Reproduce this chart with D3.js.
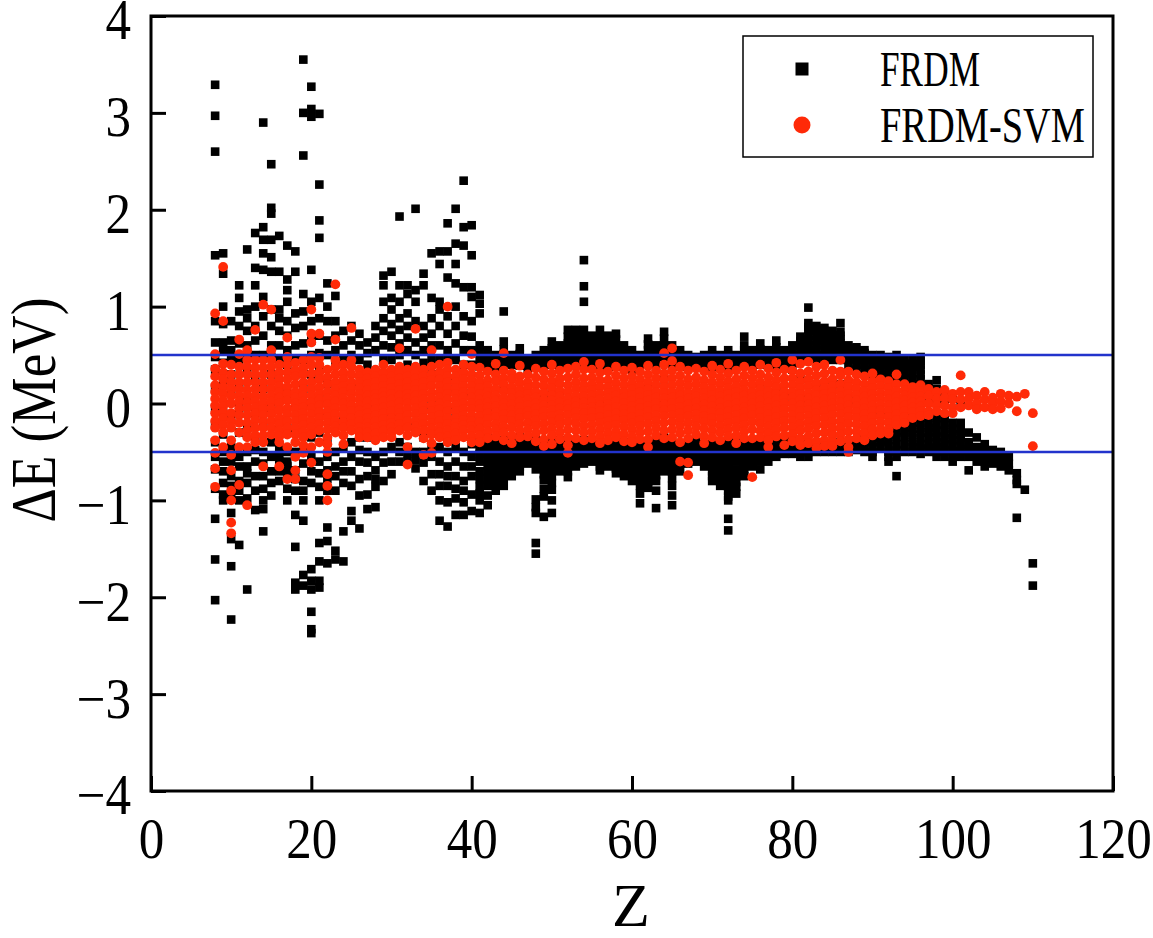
<!DOCTYPE html>
<html><head><meta charset="utf-8">
<script src="https://cdn.jsdelivr.net/npm/d3@7"></script>
<style>body{margin:0;background:#fff}svg{display:block}</style>
</head><body>
<script>
// Each row: [Z, ΔE values ...] (MeV)
const frdmLight = [
[8,3.29,2.97,2.60,1.53,0.85,0.63,0.48,0.35,0.15,-0.05,-0.22,-0.40,-0.55,-0.68,-0.88,-1.19,-1.61,-2.03],
[9,1.55,1.34,1.0,0.82,0.63,0.55,0.42,0.2,-0.1,-0.32,-0.5,-0.6,-0.7,-0.82,-0.94,-1.0],
[10,0.85,0.65,0.55,0.45,0.3,0.1,-0.15,-0.45,-0.6,-0.75,-0.85,-0.95,-1.13,-1.4,-1.68,-2.23],
[11,1.22,1.09,0.95,0.8,0.62,0.45,0.2,-0.05,-0.3,-0.55,-0.65,-0.8,-0.9,-1.0,-1.46],
[12,1.59,0.97,0.88,0.75,0.6,0.48,0.35,0.05,-0.25,-0.5,-0.65,-0.72,-0.82,-0.98,-1.92],
[13,1.76,1.40,1.22,1.0,0.80,0.65,0.5,0.25,-0.1,-0.35,-0.48,-0.6,-0.75,-0.9,-1.1],
[14,2.90,1.82,1.69,1.55,1.38,1.1,0.9,0.7,0.5,0.15,-0.2,-0.5,-0.62,-0.75,-0.88,-1.0,-1.09,-1.32],
[15,2.47,2.02,1.96,1.69,1.51,1.36,0.97,0.8,0.6,0.48,0.3,-0.05,-0.4,-0.55,-0.7,-0.82,-0.95],
[16,1.73,1.36,0.97,0.88,0.75,0.6,0.45,0.1,-0.2,-0.45,-0.52,-0.6,-0.7,-0.8],
[17,1.63,1.28,1.17,1.05,0.85,0.7,0.55,0.4,0.1,-0.25,-0.5,-0.6,-0.65,-0.73,-0.88,-1.0],
[18,1.57,1.36,0.93,0.78,0.6,0.45,0.3,0.0,-0.3,-0.5,-0.69,-0.78,-0.9,-1.15,-1.48,-1.85,-1.92],
[19,3.55,3.0,2.56,1.13,0.95,0.8,0.62,0.45,0.15,-0.2,-0.5,-0.62,-0.8,-0.9,-1.0,-1.21,-1.77,-1.88],
[20,3.27,3.04,2.96,1.38,1.05,0.85,0.65,0.5,0.3,0.0,-0.35,-0.55,-0.7,-0.82,-1.71,-1.83,-1.92,-2.15,-2.33,-2.37],
[21,2.99,2.26,1.89,1.71,1.09,0.88,0.7,0.52,0.35,0.05,-0.3,-0.6,-0.72,-0.86,-1.0,-1.44,-1.63,-1.83,-1.90],
[22,1.24,1.0,0.85,0.65,0.5,0.2,-0.1,-0.4,-0.55,-0.69,-0.78,-0.9,-1.28,-1.42,-1.65],
[23,1.11,0.85,0.7,0.55,0.4,0.1,-0.2,-0.5,-0.65,-0.75,-0.9,-1.52,-1.61],
[24,0.75,0.6,0.45,0.15,-0.15,-0.45,-0.6,-0.7,-0.82,-1.32,-1.63],
[25,0.8,0.65,0.5,0.2,-0.1,-0.4,-0.55,-0.7,-0.85,-1.11,-1.21],
[26,0.72,0.6,0.45,0.2,-0.05,-0.35,-0.48,-0.6,-0.78,-0.95,-1.29],
[27,0.63,0.52,0.4,0.15,-0.1,-0.35,-0.5,-0.61,-0.75,-0.94,-1.09],
[28,0.80,0.68,0.55,0.3,0.0,-0.3,-0.55,-0.69,-0.78,-0.86,-1.07],
[29,1.32,1.22,1.05,0.88,0.75,0.6,0.45,0.3,0.05,-0.25,-0.5,-0.61,-0.8],
[30,1.36,1.09,0.97,0.82,0.7,0.58,0.45,0.15,-0.15,-0.45,-0.6,-0.73],
[31,1.93,1.22,1.05,0.88,0.76,0.62,0.5,0.2,-0.1,-0.4,-0.5,-0.6],
[32,1.22,1.13,0.93,0.8,0.68,0.55,0.4,0.1,-0.2,-0.45,-0.52,-0.6],
[33,2.01,1.17,1.05,0.85,0.63,0.5,0.35,0.05,-0.25,-0.5,-0.58,-0.67],
[34,1.34,1.22,0.80,0.68,0.55,0.42,0.25,-0.05,-0.35,-0.5,-0.61,-0.8],
[35,1.55,1.09,0.88,0.72,0.6,0.45,0.3,0.0,-0.3,-0.45,-0.55,-0.73,-0.90],
[36,1.57,1.44,1.05,0.97,0.8,0.6,0.45,0.3,0.0,-0.3,-0.45,-0.6,-0.73,-0.85,-1.0,-1.21],
[37,1.86,1.57,1.30,0.9,0.72,0.55,0.45,0.25,-0.05,-0.35,-0.5,-0.65,-0.75,-0.85,-1.02,-1.27],
[38,2.01,1.65,1.44,1.24,1.0,0.8,0.62,0.45,0.15,-0.15,-0.45,-0.6,-0.75,-0.88,-0.98,-1.15],
[39,2.30,1.82,1.63,1.20,0.9,0.7,0.55,0.4,0.1,-0.2,-0.5,-0.65,-0.8,-0.9,-1.02,-1.15],
[40,1.84,1.53,1.20,1.1,0.85,0.69,0.55,0.4,0.1,-0.2,-0.42,-0.55,-0.65,-0.75,-0.94,-1.11]
];
const frdmMedium = [
[41,1.12,1.03,0.93,0.6,0.52,0.45,0.38,0.2,0.0,-0.2,-0.38,-0.45,-0.52,-0.6,-0.7,-0.78,-0.86,-0.93,-1.0,-1.13],
[42,0.55,0.47,0.42,0.36,0.1,-0.1,-0.36,-0.42,-0.5,-0.58,-0.64,-0.7,-0.78,-0.85,-0.95,-1.05],
[43,0.5,0.44,0.38,0.0,-0.38,-0.45,-0.5,-0.56,-0.62,-0.68,-0.75,-0.82,-0.9],
[44,0.95,0.64,0.56,0.5,0.43,0.38,0.15,-0.1,-0.38,-0.45,-0.52,-0.58,-0.64,-0.69,-0.77,-0.85],
[45,0.5,0.45,0.4,0.0,-0.38,-0.45,-0.52,-0.58,-0.65,-0.7,-0.75],
[46,0.57,0.51,0.45,0.39,0.1,-0.35,-0.42,-0.48,-0.54,-0.6,-0.65,-0.7],
[47,0.45,0.4,0.35,-0.05,-0.36,-0.42,-0.47,-0.52,-0.57,-0.62],
[48,0.5,0.44,0.38,0.0,-0.38,-0.45,-0.52,-0.6,-0.68,-0.99,-1.07,-1.13,-1.44,-1.55],
[49,0.55,0.48,0.42,0.36,0.05,-0.4,-0.47,-0.55,-0.61,-0.67,-0.73,-0.79,-0.88,-0.96,-1.17],
[50,0.64,0.57,0.5,0.45,0.4,0.15,-0.4,-0.48,-0.54,-0.6,-0.67,-0.75,-0.82,-0.89,-1.0,-1.13],
[51,0.6,0.54,0.48,0.42,0.36,0.1,-0.38,-0.44,-0.5,-0.55,-0.6,-0.65,-0.7],
[52,0.76,0.69,0.62,0.56,0.5,0.44,0.38,0.0,-0.42,-0.48,-0.55,-0.6,-0.65,-0.7,-0.76],
[53,0.76,0.7,0.64,0.58,0.52,0.46,0.4,0.05,-0.4,-0.46,-0.52,-0.58,-0.65],
[54,1.48,1.21,1.05,0.76,0.7,0.65,0.6,0.55,0.48,0.42,0.05,-0.38,-0.42,-0.47,-0.52,-0.57,-0.62],
[55,0.7,0.65,0.6,0.54,0.48,0.43,0.38,-0.05,-0.38,-0.44,-0.5,-0.55,-0.6],
[56,0.76,0.69,0.62,0.56,0.5,0.44,0.38,0.0,-0.42,-0.48,-0.54,-0.6,-0.65,-0.69],
[57,0.7,0.64,0.58,0.52,0.45,0.4,-0.05,-0.4,-0.46,-0.55,-0.6,-0.65],
[58,0.72,0.66,0.6,0.55,0.5,0.44,0.38,-0.1,-0.38,-0.44,-0.5,-0.56,-0.62,-0.67,-0.72],
[59,0.6,0.55,0.5,0.45,0.4,0.1,-0.4,-0.46,-0.52,-0.58,-0.65,-0.7,-0.75],
[60,0.55,0.5,0.45,0.4,0.35,0.05,-0.42,-0.48,-0.55,-0.62,-0.68,-0.74,-0.8],
[61,0.5,0.45,0.4,0.0,-0.4,-0.45,-0.52,-0.58,-0.64,-0.7,-0.78,-0.85,-0.93,-1.03],
[62,0.67,0.61,0.55,0.48,0.42,0.15,-0.4,-0.46,-0.52,-0.58,-0.65,-0.7,-0.75,-0.81,-0.87],
[63,0.6,0.55,0.5,0.44,0.38,0.1,-0.4,-0.48,-0.55,-0.62,-0.68,-0.74,-0.8,-0.9,-1.08],
[64,0.74,0.67,0.6,0.54,0.48,0.25,0.0,-0.35,-0.42,-0.5,-0.56,-0.62,-0.66,-0.7],
[65,0.6,0.55,0.5,0.44,0.38,0.1,-0.4,-0.47,-0.55,-0.62,-0.7,-0.77,-0.85,-0.95,-1.05],
[66,0.55,0.5,0.45,0.38,0.05,-0.42,-0.48,-0.55,-0.62,-0.7],
[67,0.5,0.45,0.4,0.0,-0.4,-0.45,-0.5,-0.56,-0.62],
[68,0.48,0.43,0.38,0.0,-0.38,-0.44,-0.5,-0.55,-0.6],
[69,0.5,0.45,0.4,0.0,-0.42,-0.48,-0.55,-0.6,-0.65],
[70,0.55,0.5,0.45,0.38,0.05,-0.42,-0.48,-0.55,-0.62,-0.7,-0.75,-0.8],
[71,0.5,0.45,0.4,0.0,-0.4,-0.45,-0.52,-0.6,-0.67,-0.75,-0.8,-0.85],
[72,0.55,0.5,0.45,0.38,0.05,-0.38,-0.42,-0.5,-0.55,-0.62,-0.68,-0.74,-0.8,-0.86,-0.9,-0.96,-1.0,-1.19,-1.31],
[73,0.5,0.45,0.4,0.0,-0.4,-0.45,-0.52,-0.6,-0.68,-0.75,-0.81,-0.86,-0.93],
[74,0.69,0.6,0.55,0.5,0.45,0.4,-0.05,-0.38,-0.44,-0.5,-0.56,-0.62,-0.68,-0.75],
[75,0.55,0.5,0.45,0.38,0.05,-0.4,-0.46,-0.52,-0.58,-0.65],
[76,0.62,0.56,0.5,0.45,0.4,0.15,-0.38,-0.44,-0.5,-0.55,-0.6,-0.68],
[77,0.55,0.5,0.45,0.38,0.05,-0.4,-0.45,-0.5,-0.55,-0.6],
[78,0.65,0.58,0.52,0.46,0.4,0.15,-0.38,-0.43,-0.48,-0.52,-0.55],
[79,0.55,0.5,0.45,0.38,0.05,-0.38,-0.42,-0.45,-0.48,-0.52],
[80,0.6,0.54,0.48,0.42,0.35,0.1,-0.35,-0.4,-0.45,-0.5,-0.52]
];
const frdmHeavy = [
[81,0.69,0.64,0.6,0.55,0.5,0.44,0.25,0.0,-0.4,-0.45,-0.5,-0.55],
[82,0.99,0.83,0.79,0.76,0.7,0.66,0.62,0.58,0.55,0.5,0.46,0.05,-0.42,-0.47,-0.5,-0.55],
[83,0.8,0.77,0.75,0.7,0.65,0.6,0.55,0.5,0.46,0.2,-0.42,-0.46,-0.5],
[84,0.78,0.75,0.72,0.68,0.64,0.6,0.55,0.5,0.45,0.1,-0.42,-0.45,-0.5],
[85,0.75,0.71,0.68,0.64,0.6,0.56,0.52,0.48,0.45,0.2,-0.42,-0.46,-0.5],
[86,0.83,0.74,0.7,0.66,0.62,0.6,0.56,0.52,0.48,0.45,0.2,-0.4,-0.45,-0.5],
[87,0.6,0.57,0.55,0.52,0.5,0.46,0.4,0.05,-0.4,-0.45,-0.5],
[88,0.58,0.55,0.52,0.48,0.45,0.4,0.35,0.0,-0.38,-0.42,-0.48],
[89,0.55,0.52,0.48,0.44,0.4,0.35,0.0,-0.35,-0.4,-0.45,-0.5],
[90,0.5,0.47,0.45,0.4,0.35,0.3,-0.05,-0.35,-0.4,-0.45,-0.5,-0.55],
[91,0.5,0.46,0.42,0.38,0.34,0.3,-0.1,-0.32,-0.36,-0.4,-0.45],
[92,0.48,0.44,0.4,0.35,0.3,0.25,-0.1,-0.32,-0.38,-0.44,-0.5,-0.55,-0.6],
[93,0.5,0.46,0.42,0.37,0.32,0.25,-0.15,-0.28,-0.34,-0.42,-0.48,-0.55,-0.75],
[94,0.45,0.41,0.38,0.34,0.3,0.25,-0.1,-0.25,-0.3,-0.35,-0.42,-0.5],
[95,0.45,0.41,0.38,0.32,0.25,0.2,-0.2,-0.26,-0.32,-0.4,-0.45,-0.5],
[96,0.48,0.44,0.4,0.35,0.3,0.25,-0.15,-0.22,-0.3,-0.36,-0.42,-0.47,-0.52],
[97,0.2,0.12,0.05,-0.2,-0.25,-0.3,-0.35,-0.42,-0.46,-0.5],
[98,0.24,0.15,0.05,-0.15,-0.22,-0.28,-0.34,-0.4,-0.45,-0.5,-0.55],
[99,0.1,0.02,-0.15,-0.22,-0.3,-0.36,-0.42,-0.48,-0.55],
[100,0.05,-0.2,-0.26,-0.32,-0.38,-0.44,-0.5,-0.55,-0.6],
[101,0.0,-0.2,-0.28,-0.35,-0.42,-0.5,-0.55],
[102,-0.3,-0.4,-0.48,-0.55,-0.69],
[103,-0.35,-0.45,-0.52,-0.6],
[104,-0.42,-0.5,-0.58,-0.65],
[105,-0.48,-0.55,-0.62],
[106,-0.5,-0.58,-0.65],
[107,-0.55,-0.62,-0.69],
[108,-0.72,-0.79,-0.83,-1.18],
[109,-0.89],
[110,-1.65,-1.88]
];
const svmLight = [
[8,0.93,0.51,0.36,0.28,0.19,0.12,0.05,-0.02,-0.1,-0.18,-0.25,-0.38,-0.51,-0.67,-0.86],
[9,1.41,0.85,0.41,0.32,0.25,0.17,0.1,0.03,-0.03,-0.09,-0.15,-0.22,-0.3,-0.45],
[10,0.4,0.3,0.22,0.15,0.08,0.0,-0.1,-0.18,-0.25,-0.38,-0.53,-0.69,-0.9,-1.0,-1.23,-1.34],
[11,0.66,0.51,0.38,0.3,0.22,0.15,0.08,0.02,-0.05,-0.12,-0.2,-0.3,-0.45,-0.84],
[12,0.55,0.45,0.38,0.3,0.22,0.14,0.08,0.01,-0.05,-0.12,-0.2,-0.28,-0.35,-0.45,-1.05],
[13,0.76,0.45,0.37,0.3,0.22,0.15,0.08,0.02,-0.04,-0.1,-0.17,-0.25,-0.33,-0.4],
[14,1.02,0.45,0.37,0.3,0.22,0.15,0.07,0.0,-0.06,-0.12,-0.19,-0.25,-0.33,-0.4,-0.65],
[15,0.97,0.55,0.45,0.38,0.3,0.22,0.15,0.08,0.02,-0.05,-0.11,-0.18,-0.25,-0.32],
[16,0.4,0.32,0.25,0.18,0.12,0.06,0.0,-0.07,-0.15,-0.21,-0.28,-0.34,-0.4,-0.65],
[17,0.68,0.48,0.4,0.32,0.25,0.17,0.1,0.03,-0.05,-0.11,-0.18,-0.25,-0.32,-0.45,-0.78],
[18,0.42,0.34,0.28,0.2,0.12,0.06,0.0,-0.06,-0.12,-0.18,-0.25,-0.32,-0.4,-0.55,-0.69,-0.78],
[19,0.45,0.37,0.3,0.22,0.15,0.08,0.02,-0.04,-0.1,-0.16,-0.22,-0.29,-0.35,-0.43,-0.51],
[20,0.97,0.72,0.63,0.48,0.4,0.31,0.22,0.15,0.08,0.01,-0.05,-0.11,-0.18,-0.25,-0.32,-0.45,-0.61],
[21,0.72,0.47,0.4,0.32,0.25,0.17,0.1,0.04,-0.02,-0.09,-0.15,-0.21,-0.28,-0.4],
[22,0.35,0.27,0.2,0.12,0.05,-0.01,-0.08,-0.14,-0.2,-0.27,-0.35,-0.42,-0.5,-0.73,-0.85,-1.0],
[23,1.23,0.66,0.45,0.38,0.3,0.22,0.15,0.08,0.02,-0.05,-0.11,-0.18,-0.24,-0.3],
[24,0.4,0.32,0.25,0.18,0.12,0.05,0.0,-0.06,-0.12,-0.19,-0.25,-0.33,-0.42],
[25,0.78,0.45,0.38,0.3,0.22,0.16,0.1,0.04,-0.02,-0.08,-0.15,-0.21,-0.28],
[26,0.35,0.28,0.22,0.16,0.1,0.04,-0.02,-0.07,-0.12,-0.18,-0.25,-0.3,-0.35],
[27,0.32,0.26,0.2,0.14,0.08,0.02,-0.05,-0.1,-0.15,-0.2,-0.25,-0.3,-0.35],
[28,0.35,0.28,0.22,0.16,0.1,0.05,0.0,-0.06,-0.12,-0.18,-0.25,-0.31,-0.38],
[29,0.4,0.32,0.25,0.18,0.12,0.07,0.02,-0.04,-0.1,-0.16,-0.22,-0.28,-0.35],
[30,0.35,0.28,0.22,0.16,0.1,0.04,-0.02,-0.08,-0.15,-0.2,-0.25,-0.3,-0.35],
[31,0.57,0.38,0.32,0.26,0.2,0.14,0.08,0.01,-0.05,-0.1,-0.15,-0.21,-0.28],
[32,0.35,0.28,0.22,0.16,0.1,0.05,0.0,-0.06,-0.12,-0.18,-0.25,-0.33,-0.45,-0.63],
[33,0.77,0.38,0.32,0.26,0.2,0.14,0.08,0.02,-0.05,-0.11,-0.18,-0.24,-0.3],
[34,0.35,0.28,0.22,0.16,0.1,0.04,-0.02,-0.08,-0.15,-0.21,-0.28,-0.36,-0.53],
[35,0.55,0.38,0.3,0.24,0.18,0.11,0.05,-0.02,-0.08,-0.14,-0.2,-0.26,-0.32,-0.41,-0.51],
[36,0.4,0.32,0.25,0.18,0.12,0.06,0.0,-0.06,-0.12,-0.18,-0.25,-0.3,-0.35],
[37,1.0,0.42,0.35,0.28,0.22,0.16,0.1,0.04,-0.02,-0.08,-0.15,-0.21,-0.28,-0.34,-0.4],
[38,0.35,0.28,0.22,0.16,0.1,0.04,-0.02,-0.08,-0.15,-0.2,-0.25,-0.31,-0.38],
[39,0.4,0.32,0.25,0.18,0.12,0.06,0.0,-0.06,-0.12,-0.17,-0.22,-0.28,-0.35],
[40,0.51,0.38,0.3,0.24,0.18,0.12,0.06,0.0,-0.06,-0.12,-0.18,-0.23,-0.28,-0.34,-0.4]
];
const svmMedium = [
[41,0.37,0.29,0.22,0.16,0.1,0.04,-0.01,-0.06,-0.13,-0.19,-0.26,-0.33,-0.4],
[42,0.33,0.24,0.18,0.12,0.07,0.01,-0.04,-0.1,-0.16,-0.22,-0.29,-0.36],
[43,0.41,0.3,0.23,0.15,0.08,0.03,-0.03,-0.09,-0.14,-0.21,-0.27,-0.34],
[44,0.52,0.34,0.26,0.2,0.13,0.06,0.0,-0.05,-0.11,-0.17,-0.24,-0.3,-0.38],
[45,0.31,0.25,0.17,0.11,0.05,-0.01,-0.07,-0.12,-0.18,-0.25,-0.33,-0.41],
[46,0.39,0.28,0.21,0.14,0.08,0.02,-0.04,-0.1,-0.15,-0.21,-0.28,-0.35],
[47,0.3,0.22,0.16,0.1,0.04,-0.02,-0.08,-0.13,-0.2,-0.27,-0.34],
[48,0.36,0.27,0.19,0.12,0.06,0.0,-0.05,-0.11,-0.17,-0.23,-0.31,-0.39],
[49,0.33,0.25,0.18,0.11,0.04,-0.02,-0.08,-0.14,-0.21,-0.28,-0.37,-0.44],
[50,0.4,0.31,0.23,0.16,0.09,0.03,-0.02,-0.07,-0.13,-0.19,-0.26,-0.33,-0.42],
[51,0.34,0.26,0.2,0.13,0.07,0.01,-0.05,-0.11,-0.16,-0.22,-0.3,-0.37],
[52,0.36,0.27,0.19,0.12,0.05,-0.01,-0.06,-0.12,-0.19,-0.27,-0.35,-0.43,-0.51],
[53,0.38,0.3,0.22,0.15,0.08,0.02,-0.03,-0.09,-0.15,-0.21,-0.28,-0.36],
[54,0.43,0.35,0.26,0.19,0.13,0.07,0.01,-0.05,-0.1,-0.16,-0.23,-0.3,-0.38],
[55,0.35,0.27,0.2,0.14,0.08,0.02,-0.04,-0.09,-0.15,-0.22,-0.29,-0.36],
[56,0.41,0.32,0.24,0.17,0.1,0.04,-0.02,-0.08,-0.14,-0.2,-0.27,-0.34,-0.41],
[57,0.33,0.24,0.17,0.11,0.05,-0.01,-0.06,-0.12,-0.18,-0.24,-0.31,-0.38],
[58,0.38,0.29,0.21,0.14,0.08,0.02,-0.04,-0.1,-0.16,-0.22,-0.29,-0.35],
[59,0.34,0.26,0.19,0.12,0.06,0.0,-0.06,-0.11,-0.17,-0.24,-0.32,-0.39],
[60,0.37,0.28,0.21,0.15,0.09,0.03,-0.03,-0.08,-0.14,-0.2,-0.27,-0.34,-0.4],
[61,0.33,0.25,0.18,0.12,0.06,0.0,-0.05,-0.11,-0.17,-0.23,-0.3,-0.37],
[62,0.39,0.3,0.22,0.15,0.09,0.03,-0.03,-0.08,-0.14,-0.21,-0.29,-0.37,-0.45],
[63,0.34,0.26,0.19,0.12,0.06,0.0,-0.06,-0.12,-0.18,-0.25,-0.33],
[64,0.52,0.4,0.31,0.24,0.17,0.11,0.05,-0.01,-0.07,-0.13,-0.2,-0.28,-0.36],
[65,0.57,0.44,0.34,0.26,0.19,0.12,0.06,0.0,-0.06,-0.12,-0.19,-0.27,-0.35],
[66,0.38,0.29,0.21,0.14,0.08,0.02,-0.04,-0.1,-0.16,-0.23,-0.31,-0.4,-0.6],
[67,0.34,0.25,0.18,0.11,0.05,-0.01,-0.07,-0.13,-0.2,-0.28,-0.36,-0.61,-0.74],
[68,0.36,0.27,0.2,0.13,0.07,0.01,-0.05,-0.11,-0.17,-0.24,-0.32],
[69,0.33,0.24,0.17,0.11,0.05,-0.01,-0.07,-0.13,-0.19,-0.26,-0.34,-0.41],
[70,0.39,0.3,0.22,0.15,0.09,0.03,-0.03,-0.09,-0.15,-0.21,-0.28,-0.35],
[71,0.35,0.27,0.2,0.13,0.07,0.01,-0.05,-0.1,-0.16,-0.23,-0.3,-0.38],
[72,0.41,0.31,0.23,0.16,0.1,0.04,-0.02,-0.08,-0.14,-0.2,-0.27,-0.34],
[73,0.34,0.25,0.18,0.12,0.06,0.0,-0.06,-0.12,-0.18,-0.25,-0.33,-0.41],
[74,0.38,0.29,0.21,0.14,0.08,0.02,-0.04,-0.09,-0.15,-0.22,-0.29,-0.36],
[75,0.34,0.26,0.19,0.12,0.06,0.0,-0.06,-0.12,-0.19,-0.27,-0.36,-0.76],
[76,0.4,0.3,0.22,0.15,0.09,0.03,-0.03,-0.09,-0.15,-0.21,-0.28,-0.35],
[77,0.36,0.27,0.2,0.13,0.07,0.01,-0.05,-0.11,-0.17,-0.24,-0.31,-0.38,-0.45],
[78,0.42,0.32,0.24,0.17,0.1,0.04,-0.02,-0.08,-0.14,-0.2,-0.27,-0.34],
[79,0.35,0.26,0.19,0.12,0.06,0.0,-0.06,-0.12,-0.18,-0.25,-0.33,-0.43],
[80,0.45,0.34,0.26,0.19,0.12,0.06,0.0,-0.06,-0.12,-0.18,-0.25,-0.32,-0.39]
];
const svmHeavy = [
[81,0.41,0.31,0.23,0.16,0.1,0.04,-0.02,-0.08,-0.14,-0.21,-0.28,-0.36,-0.43],
[82,0.43,0.33,0.25,0.18,0.11,0.05,-0.01,-0.07,-0.13,-0.19,-0.26,-0.34,-0.41],
[83,0.38,0.29,0.21,0.14,0.08,0.02,-0.04,-0.1,-0.16,-0.23,-0.31,-0.39,-0.46],
[84,0.4,0.31,0.23,0.16,0.1,0.04,-0.02,-0.08,-0.15,-0.22,-0.3,-0.38,-0.44],
[85,0.34,0.25,0.18,0.12,0.06,0.0,-0.06,-0.12,-0.19,-0.26,-0.33,-0.4,-0.44],
[86,0.45,0.33,0.29,0.2,0.13,0.07,0.01,-0.05,-0.11,-0.18,-0.25,-0.32,-0.39],
[87,0.33,0.24,0.17,0.1,0.04,-0.02,-0.08,-0.14,-0.21,-0.29,-0.37,-0.45,-0.5],
[88,0.3,0.22,0.15,0.09,0.03,-0.03,-0.09,-0.15,-0.22,-0.29,-0.36],
[89,0.28,0.2,0.13,0.07,0.01,-0.05,-0.11,-0.17,-0.24,-0.31,-0.38],
[90,0.31,0.23,0.16,0.1,0.04,-0.02,-0.08,-0.14,-0.2,-0.27,-0.33],
[91,0.25,0.18,0.11,0.05,-0.01,-0.07,-0.13,-0.19,-0.26,-0.31],
[92,0.23,0.16,0.1,0.04,-0.02,-0.08,-0.14,-0.2,-0.27,-0.31],
[93,0.3,0.2,0.13,0.07,0.01,-0.05,-0.11,-0.17,-0.22],
[94,0.2,0.14,0.08,0.03,-0.02,-0.08,-0.14,-0.2],
[95,0.17,0.11,0.06,0.01,-0.04,-0.09,-0.15],
[96,0.19,0.13,0.07,0.02,-0.03,-0.08,-0.13],
[97,0.15,0.08,0.0,-0.08,-0.12],
[98,0.12,0.05,-0.02,-0.08],
[99,0.14,0.06,-0.02,-0.1],
[100,0.1,0.04,-0.04,-0.1],
[101,0.29,0.12,0.04,-0.04],
[102,0.12,0.05,-0.02],
[103,0.08,0.0,-0.06],
[104,0.12,0.04,-0.04],
[105,0.06,0.0,-0.06],
[106,0.1,0.02,-0.05],
[107,0.08,0.0],
[108,0.07,-0.08],
[109,0.10],
[110,-0.10,-0.44]
];
const xTicks = [0,20,40,60,80,100,120];
const yTicks = [-4,-3,-2,-1,0,1,2,3,4];
const refLines = [0.5,-0.5];
const seriesNames = ["FRDM","FRDM-SVM"];

const W = 1153, H = 938;
const x = d3.scaleLinear().domain([0,120]).range([151,1113]);
const y = d3.scaleLinear().domain([-4,4]).range([791,16]);
const svg = d3.select("body").append("svg").attr("width",W).attr("height",H);

const flat = rows => rows.flatMap(r => r.slice(1).map(v => ({z:r[0], v})));
const frdm = flat([...frdmLight, ...frdmMedium, ...frdmHeavy]);
const svm = flat([...svmLight, ...svmMedium, ...svmHeavy]);

const plot = svg.append("g");
const sq = 8.6;
plot.selectAll("rect.frdm").data(frdm).join("rect").attr("class","frdm")
  .attr("x", d => x(d.z) - sq/2).attr("y", d => y(d.v) - sq/2)
  .attr("width", sq).attr("height", sq).attr("fill","#000");
plot.selectAll("circle.svm").data(svm).join("circle").attr("class","svm")
  .attr("cx", d => x(d.z)).attr("cy", d => y(d.v)).attr("r", 4.9).attr("fill","#ff2a08");

svg.selectAll("line.ref").data(refLines).join("line").attr("class","ref")
  .attr("x1", x(0)).attr("x2", x(120)).attr("y1", d => y(d)).attr("y2", d => y(d))
  .attr("stroke","#2233cc").attr("stroke-width",2.4);

const fmt = d => (d < 0 ? "\u2212" : "") + Math.abs(d);
const tlen = d => String(Math.abs(d)).length * 25.5 + (d < 0 ? 29 : 0);

const gx = svg.append("g").attr("transform", `translate(0,${y(-4)})`)
  .call(d3.axisBottom(x).tickValues(xTicks).tickSize(15).tickPadding(27).tickFormat(fmt));
const gy = svg.append("g").attr("transform", `translate(${x(0)},0)`)
  .call(d3.axisLeft(y).tickValues(yTicks).tickSize(15).tickPadding(20).tickFormat(fmt));
[gx, gy].forEach(g => {
  g.select(".domain").remove();
  g.selectAll(".tick line").attr("stroke","#000").attr("stroke-width",3);
  g.selectAll(".tick text").attr("font-family","'Liberation Serif', 'Times New Roman', serif")
    .attr("font-size",56).attr("fill","#000")
    .attr("textLength", d => tlen(d)).attr("lengthAdjust","spacingAndGlyphs");
});
// ticks point inward
gx.selectAll(".tick line").attr("y1",0).attr("y2",-15);
gx.selectAll(".tick text").attr("y",27);
gy.selectAll(".tick line").attr("x1",0).attr("x2",15);
gy.selectAll(".tick text").attr("x",-20).attr("y",5);

svg.append("rect").attr("x", x(0)).attr("y", y(4)).attr("width", x(120)-x(0)).attr("height", y(-4)-y(4))
  .attr("fill","none").attr("stroke","#000").attr("stroke-width",3);

svg.append("text").attr("x", 631).attr("y", 926).attr("text-anchor","middle")
  .attr("font-family","'Liberation Serif', serif").attr("font-size",62).text("Z");
svg.append("text").attr("transform","translate(55,410) rotate(-90)").attr("text-anchor","middle")
  .attr("font-family","'Liberation Serif', serif").attr("font-size",64)
  .attr("textLength",225).attr("lengthAdjust","spacingAndGlyphs").text("\u0394E (MeV)");

const lg = svg.append("g");
lg.append("rect").attr("x",743).attr("y",36).attr("width",350).attr("height",121)
  .attr("fill","#fff").attr("stroke","#000").attr("stroke-width",1.5);
lg.append("rect").attr("x",795.5).attr("y",62.5).attr("width",13).attr("height",13).attr("fill","#000");
lg.append("circle").attr("cx",802).attr("cy",125).attr("r",8.5).attr("fill","#ff2a08");
lg.selectAll("text.lt").data(seriesNames).join("text").attr("class","lt")
  .attr("x",880).attr("y",(d,i) => i ? 142 : 86)
  .attr("font-family","'Liberation Serif', serif").attr("font-size",50)
  .attr("textLength",(d,i) => i ? 205 : 100).attr("lengthAdjust","spacingAndGlyphs")
  .text(d => d);
</script>
</body></html>
